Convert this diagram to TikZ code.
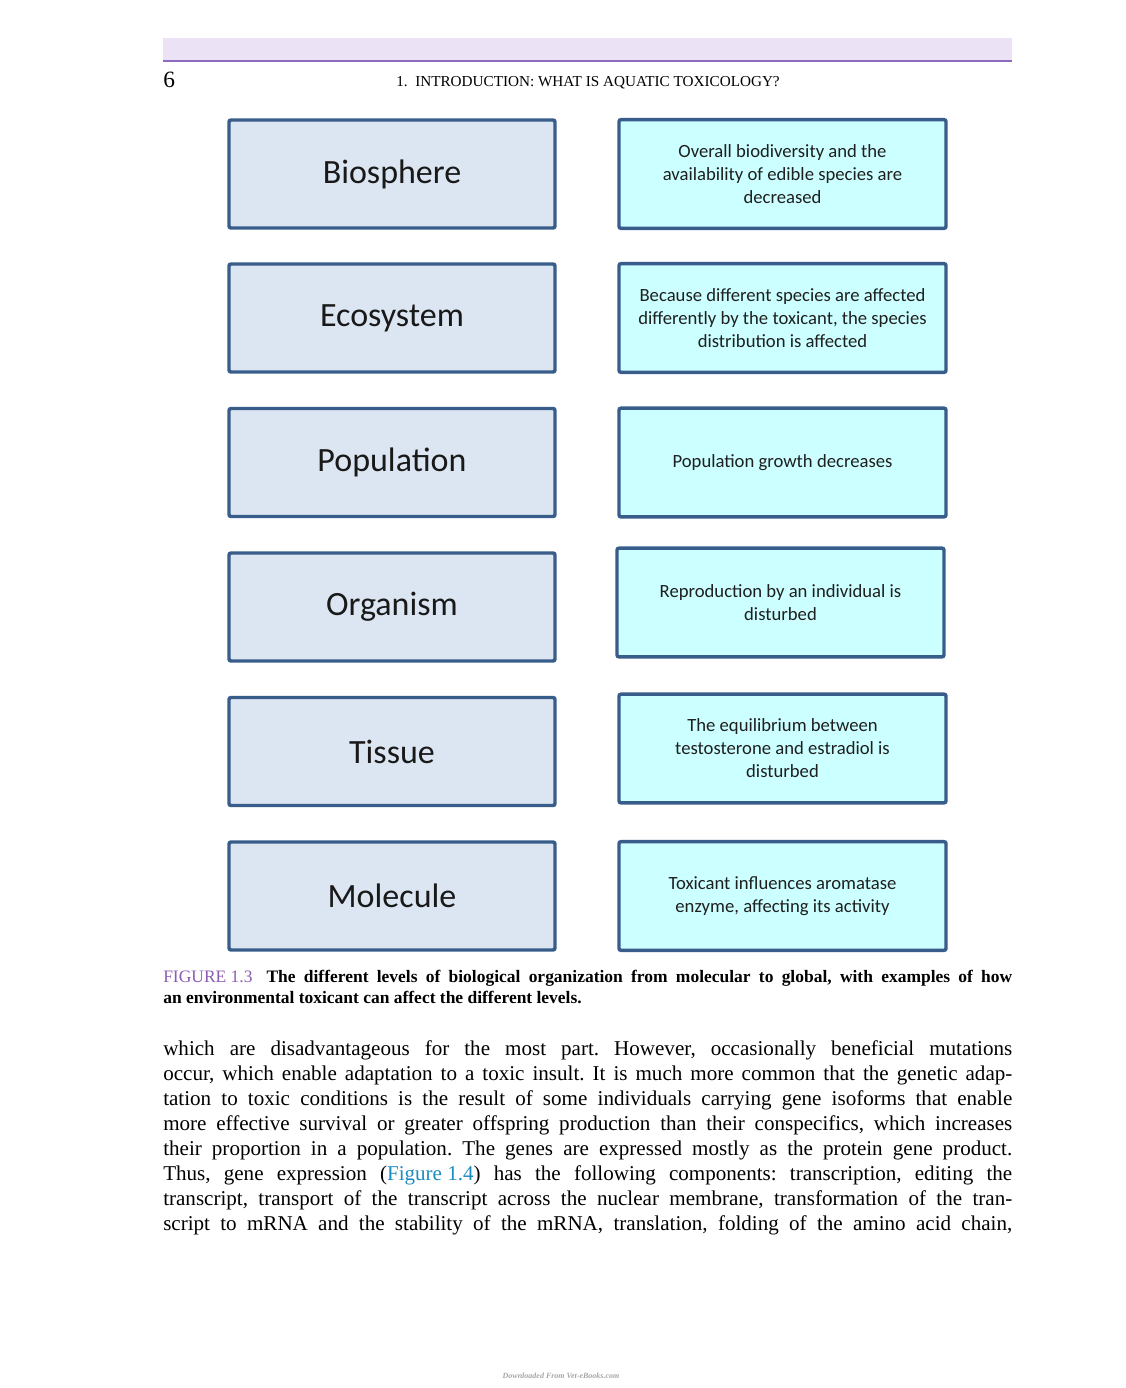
\documentclass[tikz,border=0pt]{standalone}
\usepackage{fontspec}
\setmainfont{Liberation Serif}
\newfontfamily\calibri{Carlito}
\definecolor{boxblue}{HTML}{385D8A}
\definecolor{lvlfill}{HTML}{DCE6F2}
\definecolor{effill}{HTML}{CCFFFF}
\definecolor{bandfill}{HTML}{EBE3F5}
\definecolor{bandline}{HTML}{8C6BBE}
\definecolor{figpurple}{HTML}{8A5DB0}
\definecolor{linkblue}{HTML}{1A8CBF}
\frenchspacing
\begin{document}
\begin{tikzpicture}[x=0.75pt,y=-0.75pt,
  lvl/.style={draw=boxblue, line width=2.6pt, fill=lvlfill, rounded corners=1.5pt,
    minimum width=244.5pt, minimum height=81pt, inner sep=0pt,
    font=\calibri\fontsize{25.5}{30}\selectfont, text=black!90},
  eff/.style={draw=boxblue, line width=2.6pt, fill=effill, rounded corners=1.5pt,
    minimum width=245.25pt, minimum height=81.5pt, inner sep=0pt, align=center,
    font=\calibri\fontsize{14}{17.25}\selectfont, text=black!88},
  bodyline/.style={anchor=base west, inner sep=0pt, font=\fontsize{15.8}{18.75}\selectfont},
  capline/.style={anchor=base west, inner sep=0pt, font=\fontsize{13.1}{15.75}\selectfont}
]
\useasboundingbox (0,0) rectangle (1125,1388);
% header
\fill[bandfill] (163,38) rectangle (1012,60);
\draw[bandline, line width=1.6pt] (163,61) -- (1012,61);
\node[anchor=base west, inner sep=0pt, font=\fontsize{17.5}{20}\selectfont] (pnum) at (163,88) {6};
\node[anchor=base, inner sep=0pt, font=\fontsize{11.4}{13}\selectfont] (htitle) at (588,87) {1.\ \ INTRODUCTION: WHAT IS AQUATIC TOXICOLOGY?};
% level boxes
\node[lvl] (biosphere) at (392,174) {Biosphere};
\node[lvl] (ecosystem) at (392,318) {Ecosystem};
\node[lvl] (population) at (392,462.5) {Population};
\node[lvl] (organism) at (392,607) {Organism};
\node[lvl] (tissue) at (392,751.5) {Tissue};
\node[lvl] (molecule) at (392,896) {Molecule};
% effect boxes
\node[eff] (e1) at (782.5,174) {Overall biodiversity and the\\availability of edible species are\\decreased};
\node[eff] (e2) at (782.5,318) {Because different species are affected\\differently by the toxicant, the species\\distribution is affected};
\node[eff] (e3) at (782.5,462.5) {Population growth decreases};
\node[eff] (e4) at (780.5,602.5) {Reproduction by an individual is\\disturbed};
\node[eff] (e5) at (782.5,748.5) {The equilibrium between\\testosterone and estradiol is\\disturbed};
\node[eff] (e6) at (782.5,896) {Toxicant influences aromatase\\enzyme, affecting its activity};
% caption
\node[capline] (cap1) at (163,982) {\makebox[636.75pt][s]{{\color{figpurple}FIGURE\kern0.25em1.3}\hspace{0.8em}{\bfseries The different levels of biological organization from molecular to global, with examples of how}}};
\node[capline] (cap2) at (163,1003) {\bfseries an environmental toxicant can affect the different levels.};
% body text
\node[bodyline] (b1) at (163,1055) {\makebox[636.75pt][s]{which are disadvantageous for the most part. However, occasionally beneficial mutations}};
\node[bodyline] (b2) at (163,1080) {\makebox[636.75pt][s]{occur, which enable adaptation to a toxic insult. It is much more common that the genetic adap-}};
\node[bodyline] (b3) at (163,1105) {\makebox[636.75pt][s]{tation to toxic conditions is the result of some individuals carrying gene isoforms that enable}};
\node[bodyline] (b4) at (163,1130) {\makebox[636.75pt][s]{more effective survival or greater offspring production than their conspecifics, which increases}};
\node[bodyline] (b5) at (163,1155) {\makebox[636.75pt][s]{their proportion in a population. The genes are expressed mostly as the protein gene product.}};
\node[bodyline] (b6) at (163,1180) {\makebox[636.75pt][s]{Thus, gene expression ({\color{linkblue}Figure\kern0.25em1.4}) has the following components: transcription, editing the}};
\node[bodyline] (b7) at (163,1205) {\makebox[636.75pt][s]{transcript, transport of the transcript across the nuclear membrane, transformation of the tran-}};
\node[bodyline] (b8) at (163,1230) {\makebox[636.75pt][s]{script to mRNA and the stability of the mRNA, translation, folding of the amino acid chain,}};
% footer
\node[inner sep=0pt, font=\fontsize{6}{7}\selectfont\bfseries\itshape, text=black!35] (foot) at (561,1376) {Downloaded From Vet-eBooks.com};
\end{tikzpicture}
\end{document}
